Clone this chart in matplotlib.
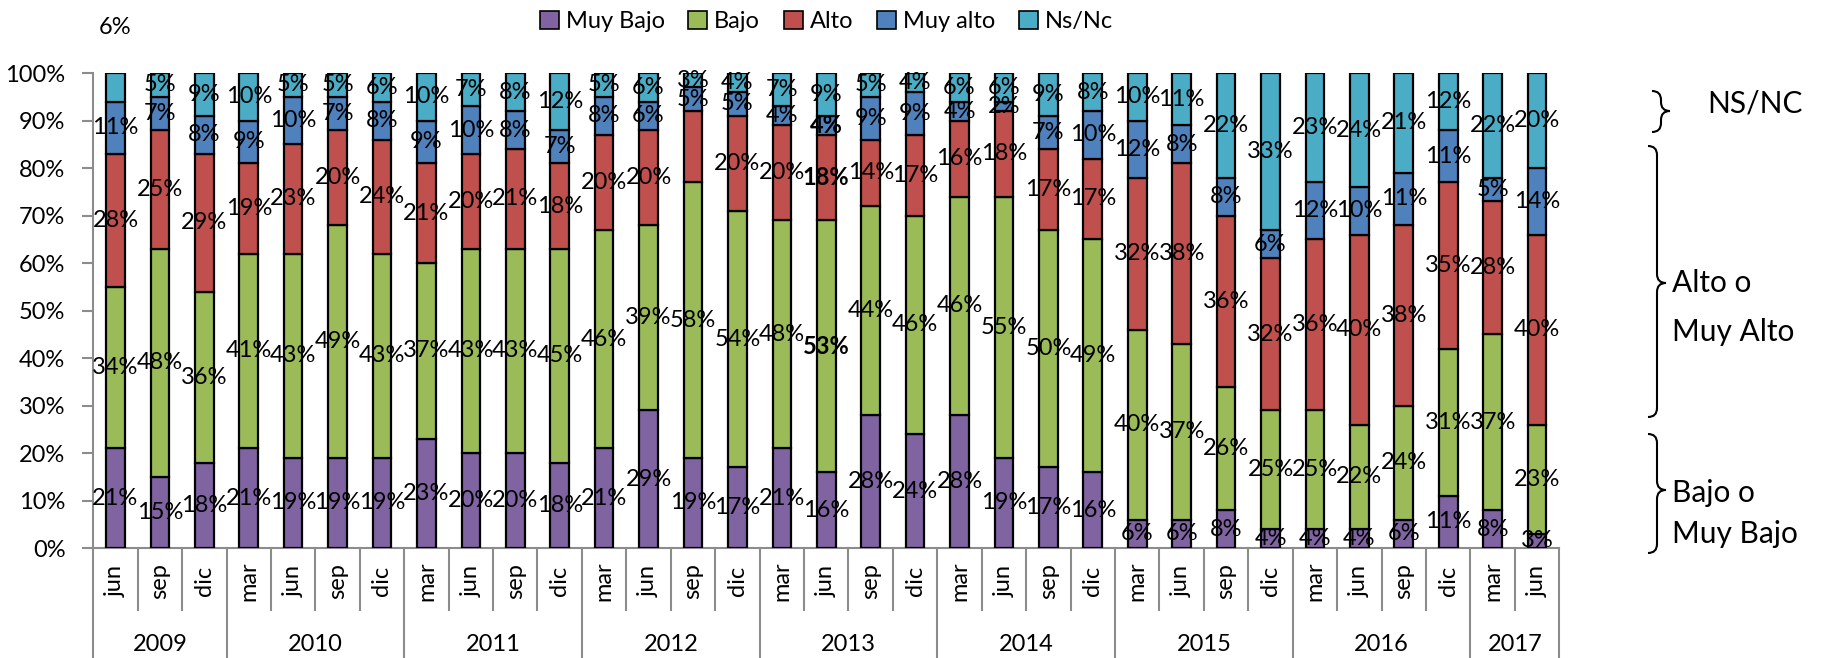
import matplotlib
matplotlib.use("Agg")
import matplotlib.pyplot as plt
import numpy as np
from matplotlib.patches import Patch, PathPatch
from matplotlib.path import Path

plt.rcParams['font.family'] = ['Lato', 'DejaVu Sans']

# Data
months = ['jun', 'sep', 'dic',
          'mar', 'jun', 'sep', 'dic',
          'mar', 'jun', 'sep', 'dic',
          'mar', 'jun', 'sep', 'dic',
          'mar', 'jun', 'sep', 'dic',
          'mar', 'jun', 'sep', 'dic',
          'mar', 'jun', 'sep', 'dic',
          'mar', 'jun', 'sep', 'dic',
          'mar', 'jun']
years = ['2009', '2010', '2011', '2012', '2013', '2014', '2015', '2016', '2017']
year_counts = [3, 4, 4, 4, 4, 4, 4, 4, 2]

muy_bajo = [21, 15, 18, 21, 19, 19, 19, 23, 20, 20, 18, 21, 29, 19, 17, 21, 16,
            28, 24, 28, 19, 17, 16, 6, 6, 8, 4, 4, 4, 6, 11, 8, 3]
bajo = [34, 48, 36, 41, 43, 49, 43, 37, 43, 43, 45, 46, 39, 58, 54, 48, 53,
        44, 46, 46, 55, 50, 49, 40, 37, 26, 25, 25, 22, 24, 31, 37, 23]
alto = [28, 25, 29, 19, 23, 20, 24, 21, 20, 21, 18, 20, 20, 15, 20, 20, 18,
        14, 17, 16, 18, 17, 17, 32, 38, 36, 32, 36, 40, 38, 35, 28, 40]
muy_alto = [11, 7, 8, 9, 10, 7, 8, 9, 10, 8, 7, 8, 6, 5, 5, 4, 4,
            9, 9, 4, 2, 7, 10, 12, 8, 8, 6, 12, 10, 11, 11, 5, 14]
ns_nc = [6, 5, 9, 10, 5, 5, 6, 10, 7, 8, 12, 5, 6, 3, 4, 7, 9,
         5, 4, 6, 6, 9, 8, 10, 11, 22, 33, 23, 24, 21, 12, 22, 20]

series_names = ['Muy Bajo', 'Bajo', 'Alto', 'Muy alto', 'Ns/Nc']
series = [muy_bajo, bajo, alto, muy_alto, ns_nc]
colors = ['#8064A2', '#9BBB59', '#C0504D', '#4F81BD', '#4BACC6']

hidden_labels = [(2, 13), (4, 0)]   # (series, bar) without a label inside the bar
bold_labels = [(1, 16), (2, 16), (3, 16)]

W, H = 1828, 658
fig = plt.figure(figsize=(W / 100, H / 100), dpi=100)
ax = fig.add_axes([0.051, 0.167, 0.802, 0.722])

x = np.arange(len(months))
bottom = np.zeros(len(months))
fs = 17
for si, (vals, col) in enumerate(zip(series, colors)):
    vals = np.array(vals, dtype=float)
    ax.bar(x, vals, 0.42, bottom=bottom, color=col, edgecolor='black', linewidth=1.6, zorder=3)
    for i in range(len(x)):
        if (si, i) in hidden_labels:
            continue
        weight = 'bold' if (si, i) in bold_labels else 'normal'
        ax.text(x[i], bottom[i] + vals[i] / 2, f"{int(vals[i])}%", ha='center', va='center',
                fontsize=fs, fontweight=weight, zorder=5)
    bottom += vals

# the first Ns/Nc label sits above the plot
ax.text(x[0], 109.5, f"{ns_nc[0]}%", ha='center', va='center', fontsize=fs, clip_on=False)

ax.set_xlim(-0.5, len(months) - 0.5)
ax.set_ylim(0, 100)
ax.set_yticks(np.arange(0, 101, 10))
ax.set_yticklabels([f"{v}%" for v in range(0, 101, 10)], fontsize=fs)
ax.tick_params(axis='y', length=8, width=1.5, color='#8c8c8c', pad=12)
ax.set_xticks([])
for s in ['top', 'right']:
    ax.spines[s].set_visible(False)
for s in ['left', 'bottom']:
    ax.spines[s].set_color('#8c8c8c')
    ax.spines[s].set_linewidth(1.5)

# multi-level category axis
trans = ax.get_xaxis_transform()
for i, m in enumerate(months):
    ax.text(x[i], -0.07, m, rotation=90, ha='center', va='center', fontsize=fs,
            transform=trans, clip_on=False)
edges = np.cumsum([0] + year_counts) - 0.5
for b in range(len(months) + 1):
    xb = b - 0.5
    bot = -0.232 if xb in edges else -0.131
    ax.plot([xb, xb], [0, bot], color='#8c8c8c', lw=1.5, transform=trans, clip_on=False)
for yi, yr in enumerate(years):
    ax.text((edges[yi] + edges[yi + 1]) / 2, -0.202, yr, ha='center', va='center',
            fontsize=fs, transform=trans, clip_on=False)

# legend
handles = [Patch(facecolor=c, edgecolor='black', linewidth=1.2) for c in colors]
fig.legend(handles, series_names, loc='center', bbox_to_anchor=(0.452, 0.967), ncol=5,
           frameon=False, fontsize=fs, handlelength=0.8, handleheight=0.8,
           handletextpad=0.3, columnspacing=1.0)


def brace(x0, y1, y2, ym, r=9):
    # curly brace "}" in pixel coordinates (y measured from the top)
    pts = [(x0 - r, y1), (x0, y1), (x0, y1 + r),
           (x0, ym - r), (x0, ym), (x0 + r, ym),
           (x0 + r, ym), (x0, ym), (x0, ym + r),
           (x0, y2 - r), (x0, y2), (x0 - r, y2)]
    codes = [Path.MOVETO, Path.CURVE3, Path.CURVE3,
             Path.LINETO, Path.CURVE3, Path.CURVE3,
             Path.MOVETO, Path.CURVE3, Path.CURVE3,
             Path.LINETO, Path.CURVE3, Path.CURVE3]
    pts = [(px / W, 1 - py / H) for px, py in pts]
    fig.add_artist(PathPatch(Path(pts, codes), facecolor='none', edgecolor='black',
                             lw=1.5, transform=fig.transFigure))


brace(1661, 91, 132, 111)
brace(1657, 146, 417, 283)
brace(1657, 434, 553, 490)

fs2 = 21.5
fig.text(1755 / W, 1 - 103 / H, 'NS/NC', ha='center', va='center', fontsize=fs2)
fig.text(1672 / W, 1 - 283 / H, 'Alto o', ha='left', va='center', fontsize=fs2)
fig.text(1672 / W, 1 - 332 / H, 'Muy Alto', ha='left', va='center', fontsize=fs2)
fig.text(1672 / W, 1 - 493 / H, 'Bajo o', ha='left', va='center', fontsize=fs2)
fig.text(1672 / W, 1 - 534 / H, 'Muy Bajo', ha='left', va='center', fontsize=fs2)

fig.savefig('out.png', dpi=100)
